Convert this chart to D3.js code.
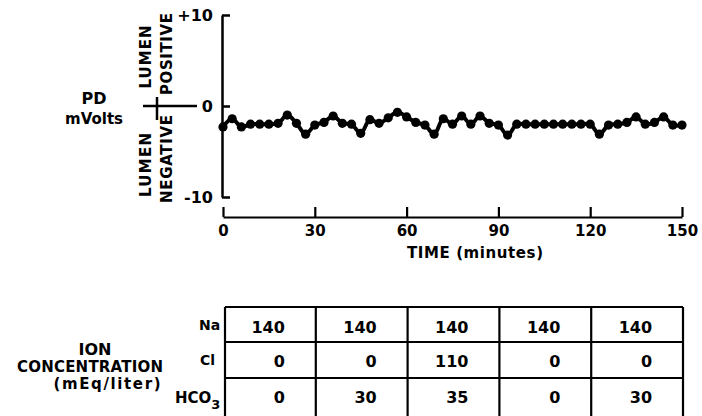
<!DOCTYPE html>
<html>
<head>
<meta charset="utf-8">
<script src="https://cdn.jsdelivr.net/npm/d3@7"></script>
<style>
  html, body { margin: 0; padding: 0; background: #fff; }
  svg { display: block; }
  text { font-family: "DejaVu Sans", "Liberation Sans", Arial, sans-serif; font-weight: bold; fill: #000; }
</style>
</head>
<body>
<svg id="chart" width="702" height="416"></svg>
<script>
// ---- data ----
const times = [0,3,6,9,12,15,18,21,24,27,30,33,36,39,42,45,48,51,54,57,60,63,66,69,72,75,78,81,84,87,90,93,96,99,102,105,108,111,114,117,120,123,126,129,132,135,138,141,144,147,150];
const pd    = [-2.3,-1.4,-2.3,-2.0,-2.0,-2.0,-1.9,-1.0,-1.9,-3.1,-2.1,-1.8,-1.1,-1.9,-2.0,-3.0,-1.5,-1.9,-1.3,-0.7,-1.2,-1.8,-2.1,-3.1,-1.4,-2.0,-1.1,-2.0,-1.1,-1.9,-2.1,-3.2,-2.0,-2.0,-2.0,-2.0,-2.0,-2.0,-2.0,-2.0,-2.0,-3.1,-2.1,-2.0,-1.8,-1.2,-2.0,-1.8,-1.2,-2.1,-2.1];
const xTicks = [0,30,60,90,120,150];
const yTicks = [-10,0,10];
const yTickLabels = {"-10":"-10","0":"0","10":"+10"};
const periodStarts = [0,30,60,90,120];
const periodEnds   = [30,60,90,120,150];
const ionNames = ["Na","Cl","HCO"];
const naValues   = [140,140,140,140,140];
const clValues   = [0,0,110,0,0];
const hco3Values = [0,30,35,0,30];

// ---- layout ----
const svg = d3.select("#chart");
const x = d3.scaleLinear().domain([0,150]).range([223,682]);
const y = d3.scaleLinear().domain([-10,10]).range([197,15]);

// y axis (ticks pointing right, labels left)
const yAxis = d3.axisLeft(y).tickValues(yTicks).tickSizeInner(-8).tickSizeOuter(0)
  .tickPadding(9).tickFormat(d => yTickLabels[String(d)]);
const gy = svg.append("g").attr("transform","translate(222,0)").call(yAxis);
gy.select(".domain").attr("stroke","#000").attr("stroke-width",2.5);
gy.selectAll(".tick line").attr("stroke","#000").attr("stroke-width",2.5);
gy.selectAll(".tick text").style("font-size","16px").attr("font-family",null);

// x axis (ticks up, labels below)
const xAxis = d3.axisBottom(x).tickValues(xTicks).tickSizeInner(-10).tickSizeOuter(0).tickPadding(8);
const gx = svg.append("g").attr("transform","translate(0,217)").call(xAxis);
gx.select(".domain").attr("stroke","#000").attr("stroke-width",2.2);
gx.selectAll(".tick line").attr("stroke","#000").attr("stroke-width",2.2);
gx.selectAll(".tick text").style("font-size","15px").attr("font-family",null);

svg.append("text").attr("x",475).attr("y",258).attr("text-anchor","middle")
  .style("font-size","15px").attr("textLength",136).attr("lengthAdjust","spacing")
  .text("TIME (minutes)");

// left labels
svg.append("text").attr("x",94).attr("y",104).attr("text-anchor","middle").style("font-size","16px")
  .text("PD");
svg.append("text").attr("x",94).attr("y",124).attr("text-anchor","middle").style("font-size","15px")
  .text("mVolts");

const rot = [
  {t:"LUMEN", bx:151, cy:57, len:63},
  {t:"POSITIVE", bx:172, cy:54, len:82},
  {t:"LUMEN", bx:151, cy:165, len:64},
  {t:"NEGATIVE", bx:172, cy:159, len:88}
];
svg.selectAll("text.rot").data(rot).enter().append("text").attr("class","rot")
  .attr("transform", d => `translate(${d.bx},${d.cy}) rotate(-90)`)
  .attr("text-anchor","middle").style("font-size","15px")
  .attr("textLength", d => d.len).attr("lengthAdjust","spacing")
  .text(d => d.t);

svg.append("line").attr("x1",143).attr("x2",197).attr("y1",y(0)).attr("y2",y(0))
  .attr("stroke","#000").attr("stroke-width",2.5);
svg.append("line").attr("x1",157).attr("x2",157).attr("y1",97).attr("y2",120)
  .attr("stroke","#000").attr("stroke-width",2.5);

// data line
const line = d3.line().x((d,i) => x(times[i])).y(d => y(d)).curve(d3.curveCatmullRom.alpha(0.5));
svg.append("path").datum(pd).attr("d",line).attr("fill","none").attr("stroke","#000").attr("stroke-width",4);
svg.selectAll("circle.pt").data(pd).enter().append("circle").attr("class","pt")
  .attr("cx",(d,i) => x(times[i])).attr("cy", d => y(d)).attr("r",4.6).attr("fill","#000");

// table
const tTop = 307, rowLines = [342,378], tBottom = 416;
const tg = svg.append("g").attr("stroke","#000").attr("stroke-width",2.2);
tg.append("line").attr("x1",x(0)+2).attr("x2",x(150)+1).attr("y1",tTop).attr("y2",tTop);
rowLines.forEach(r => tg.append("line").attr("x1",x(0)+2).attr("x2",x(150)+1).attr("y1",r).attr("y2",r));
[0].concat(periodEnds).forEach(v => tg.append("line").attr("x1",x(v)+(v===0?2:1)).attr("x2",x(v)+(v===0?2:1)).attr("y1",tTop).attr("y2",tBottom));

const rowsVals = [naValues, clValues, hco3Values];
const rowBase = [333,367,403];
rowsVals.forEach((vals,ri) => {
  svg.selectAll(null).data(vals).enter().append("text")
    .attr("x",(d,i) => (x(periodStarts[i]) + x(periodEnds[i]))/2 + 16)
    .attr("y",rowBase[ri]).attr("text-anchor","end").style("font-size","16px")
    .text(d => d);
});

// row labels
svg.append("text").attr("x",199).attr("y",330).style("font-size","14px").text(ionNames[0]);
svg.append("text").attr("x",200).attr("y",365).style("font-size","14px").text(ionNames[1]);
const h = svg.append("text").attr("x",175).attr("y",403).style("font-size","15px");
h.append("tspan").text(ionNames[2]);
h.append("tspan").attr("dy",6).style("font-size","13px").text("3");

svg.append("text").attr("x",95).attr("y",355).attr("text-anchor","middle").style("font-size","16px").text("ION");
svg.append("text").attr("x",90).attr("y",372).attr("text-anchor","middle").style("font-size","15px")
  .attr("textLength",146).attr("lengthAdjust","spacing").text("CONCENTRATION");
svg.append("text").attr("x",107).attr("y",389).attr("text-anchor","middle").style("font-size","15px")
  .attr("textLength",107).attr("lengthAdjust","spacing").text("(mEq/liter)");
</script>
</body>
</html>
